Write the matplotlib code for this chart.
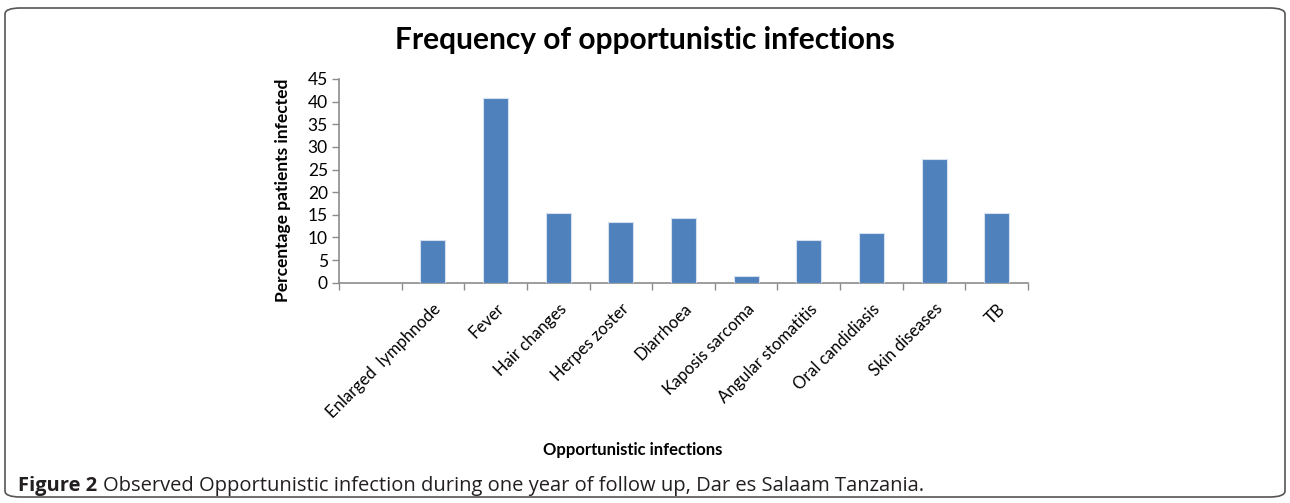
import matplotlib
matplotlib.use("Agg")
import matplotlib.pyplot as plt
from matplotlib.patches import FancyBboxPatch
import numpy as np

categories = ["Enlarged  lymphnode", "Fever", "Hair changes", "Herpes zoster", "Diarrhoea",
              "Kaposis sarcoma", "Angular stomatitis", "Oral candidiasis", "Skin diseases", "TB"]
values = [9.4, 40.8, 15.3, 13.5, 14.4, 1.4, 9.4, 10.9, 27.3, 15.3]
yticks = [0, 5, 10, 15, 20, 25, 30, 35, 40, 45]

FONT = ["Lato", "DejaVu Sans"]
plt.rcParams['font.family'] = FONT

fig = plt.figure(figsize=(12.9, 5.03), dpi=100)
ax = fig.add_axes([339/1290, 1-282.7/503, (1028-339)/1290, (282.7-79)/503])

x = np.arange(len(categories))
ax.bar(x, values, width=0.4, color="#4F81BD", edgecolor="#D6E0EE", linewidth=0.8, zorder=3)

ax.set_xlim(-1.5, len(categories) - 0.5)
ax.set_ylim(0, 45)
ax.set_yticks(yticks)
ax.set_yticklabels([str(v) for v in yticks], fontsize=12.5, color="#000000")

ax.set_xticks(x)
ax.set_xticklabels(categories, rotation=45, ha="right", va="top", rotation_mode="anchor",
                   fontsize=12, color="#000000")
ax.set_xticks(np.arange(-1.5, len(categories)), minor=True)
ax.tick_params(axis="x", which="major", length=0, pad=13)
ax.tick_params(axis="x", which="minor", length=5, width=1, color="#8C8C8C", direction="out")
ax.tick_params(axis="y", length=5, width=1, color="#8C8C8C", direction="out", pad=3)

for s in ["top", "right"]:
    ax.spines[s].set_visible(False)
for s in ["left", "bottom"]:
    ax.spines[s].set_color("#8C8C8C")
    ax.spines[s].set_linewidth(1.2)

fig.text(645/1290, 1-40/503, "Frequency of opportunistic infections", ha="center", va="center",
         fontsize=21.5, fontweight="bold", color="#000000")
fig.text(283/1290, 1-190/503, "Percentage patients infected", ha="center", va="center",
         rotation=90, fontsize=12.5, fontweight="bold", color="#000000")
fig.text(633/1290, 1-450/503, "Opportunistic infections", ha="center", va="center",
         fontsize=12, fontweight="bold", color="#000000")

CAP = ["Open Sans", "DejaVu Sans"]
t1 = fig.text(18/1290, 1-486/503, "Figure 2", ha="left", va="center",
              fontsize=14.5, fontweight="bold", color="#231F20", family=CAP)
fig.canvas.draw()
bb = t1.get_window_extent(renderer=fig.canvas.get_renderer())
fig.text((bb.x1 + 6)/1290, 1-486/503,
         "Observed Opportunistic infection during one year of follow up, Dar es Salaam Tanzania.",
         ha="left", va="center", fontsize=14.5, color="#231F20", family=CAP)

border = FancyBboxPatch((5/1290, 1-497/503), (1285-5)/1290, (497-8)/503,
                        boxstyle="round,pad=0,rounding_size=0.012", transform=fig.transFigure,
                        fill=False, edgecolor="#555555", linewidth=1.2)
fig.patches.append(border)

fig.savefig("out.png", dpi=100)
